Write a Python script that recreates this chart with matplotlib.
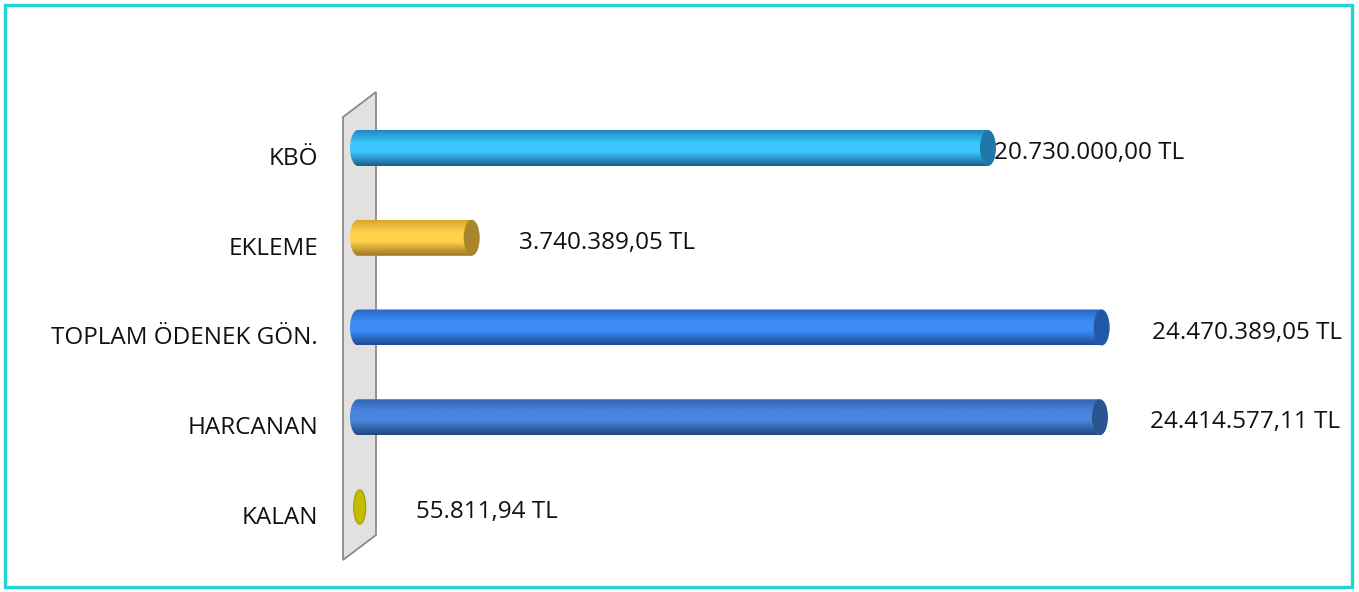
import numpy as np
import matplotlib
matplotlib.use("Agg")
from matplotlib import pyplot as plt
from matplotlib.colors import LinearSegmentedColormap
from matplotlib.patches import Ellipse, Polygon, Rectangle, Path, PathPatch
from matplotlib.transforms import ScaledTranslation

# data
categories = ["KBÖ", "EKLEME", "TOPLAM ÖDENEK GÖN.", "HARCANAN", "KALAN"]
values = [20730000.00, 3740389.05, 24470389.05, 24414577.11, 55811.94]
value_labels = ["20.730.000,00 TL", "3.740.389,05 TL", "24.470.389,05 TL",
                "24.414.577,11 TL", "55.811,94 TL"]

# style: (top, highlight, bottom, cap) per bar
bar_styles = [
    ("#1f86c0", "#3cc8ff", "#1b5f8a", "#1f78a8"),
    ("#d9a52c", "#ffd24a", "#9c7420", "#a8852a"),
    ("#2a66c8", "#3c8cf5", "#1d4a95", "#2158a8"),
    ("#3465b5", "#4a86de", "#23467f", "#2b5590"),
    ("#a8a000", "#d8d000", "#8a8400", "#c4bc00"),
]
label_dx_px = [6, 47, 50, 50, 56]

W, H = 1359, 592
DPI = 100
plt.rcParams['font.family'] = ['Open Sans', 'DejaVu Sans']
FS = 17.5

fig = plt.figure(figsize=(W / DPI, H / DPI), dpi=DPI)
fig.patch.set_facecolor("white")

# back wall (decoration, figure pixels), drawn behind the axes
wall = Polygon([(343 / W, 1 - 117 / H), (376 / W, 1 - 92 / H),
                (376 / W, 1 - 535 / H), (343 / W, 1 - 560 / H)],
               closed=True, transform=fig.transFigure, facecolor="#e2e1e0",
               edgecolor="#8a8a8a", linewidth=1.3, zorder=-5)
fig.patches.append(wall)

# axes: x=0 at px 358, 30.39 px per million
zero_px, ax_l_px, ax_r_px = 358, 340, 1320
px_per_unit = 30.39e-6
ax = fig.add_axes([ax_l_px / W, 1 - 560 / H, (ax_r_px - ax_l_px) / W, (560 - 80) / H], zorder=2)
y_px_per_unit = 89.75
ax.axis("off")
ax.patch.set_alpha(0)

bar_h = 36 / y_px_per_unit
cap_w = 16 / px_per_unit  # data units for 16 px

for i, (v, st) in enumerate(zip(values, bar_styles)):
    top, hi, bot, cap = st
    y_lo, y_hi = i - bar_h / 2, i + bar_h / 2
    if v < cap_w:
        # tiny value: only the end face is visible
        ax.add_patch(Ellipse((v, i), cap_w * 0.75, bar_h * 0.95, facecolor=cap,
                             edgecolor="#a09a00", linewidth=0.8, zorder=3))
    else:
        cmap = LinearSegmentedColormap.from_list("b%d" % i, [(0, top), (0.35, hi), (0.6, hi), (1, bot)])
        grad = np.linspace(0, 1, 128).reshape(-1, 1)
        img = ax.imshow(grad, cmap=cmap, aspect="auto", origin="lower",
                        extent=(-cap_w / 2, v, y_lo, y_hi), zorder=2)
        t = np.linspace(np.pi / 2, 3 * np.pi / 2, 40)
        verts = [(v, y_lo)]
        verts += [(cap_w / 2 * np.cos(a), i - bar_h / 2 * np.sin(a)) for a in t]
        verts += [(v, y_hi), (v, y_lo)]
        clip = PathPatch(Path(verts), transform=ax.transData, facecolor="none", edgecolor="none")
        ax.add_patch(clip)
        img.set_clip_path(clip)
        ax.add_patch(Ellipse((v, i), cap_w, bar_h, facecolor=cap,
                             edgecolor="none", zorder=3))
    ax.text(v, i, value_labels[i], fontsize=FS, color="#111111", va="center", ha="left",
            transform=ax.transData + ScaledTranslation(label_dx_px[i] / DPI, -5 / DPI, fig.dpi_scale_trans))

ax.set_xlim(-(zero_px - ax_l_px) / px_per_unit, (ax_r_px - zero_px) / px_per_unit)
ax.set_ylim(4 + (560 - 507) / y_px_per_unit, -(148 - 80) / y_px_per_unit)

# category labels
for i, c in enumerate(categories):
    ax.text(0, i, c, fontsize=FS, color="#111111", va="center", ha="right",
            transform=ax.transData + ScaledTranslation(-40 / DPI, -11 / DPI, fig.dpi_scale_trans))

# frame
fig.patches.append(Rectangle((5 / W, 5 / H), (W - 12) / W, (H - 10) / H, transform=fig.transFigure,
                             facecolor="none", edgecolor="#22d4d4", linewidth=2.4, zorder=5))

fig.savefig("out.png", dpi=DPI)
